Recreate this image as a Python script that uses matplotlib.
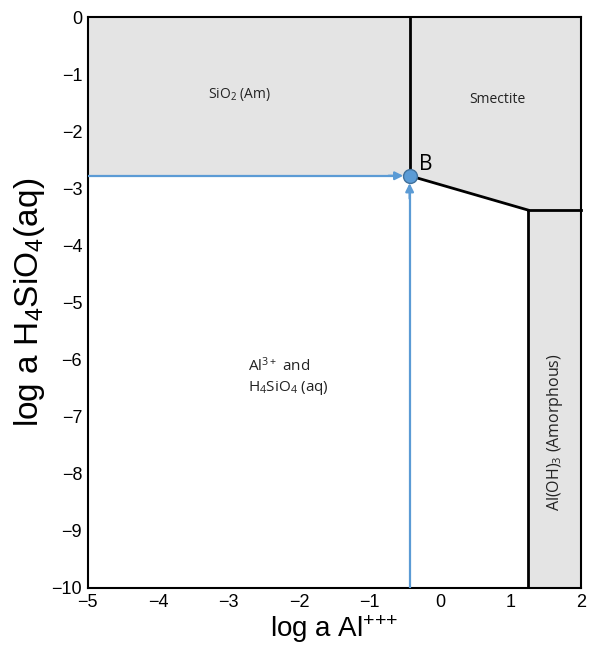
import matplotlib
matplotlib.use("Agg")
import matplotlib.pyplot as plt
from matplotlib.patches import Polygon

# Data (boundary points in log activity units)
point_B = (-0.43, -2.78)
kink = (1.25, -3.38)
xlim = (-5, 2)
ylim = (-10, 0)
xticks = [-5, -4, -3, -2, -1, 0, 1, 2]
yticks = [0, -1, -2, -3, -4, -5, -6, -7, -8, -9, -10]

region_labels = {
    "sio2": ("SiO$_2$ (Am)", (-2.84, -1.35)),
    "smectite": ("Smectite", (0.81, -1.45)),
    "aq": ("Al$^{3+}$ and\nH$_4$SiO$_4$ (aq)", (-2.72, -6.3)),
    "aloh": ("Al(OH)$_3$ (Amorphous)", (1.63, -7.27)),
}

plt.rcParams['font.family'] = ['Liberation Sans', 'DejaVu Sans']
plt.rcParams['mathtext.default'] = 'regular'
fig = plt.figure(figsize=(5.89, 6.56), dpi=100)
ax = fig.add_axes([0.149, 0.1037, 0.837, 0.8703])

grey = '#e4e4e4'
bx, by = point_B
kx, ky = kink
# SiO2 region
ax.add_patch(Polygon([(xlim[0], by), (bx, by), (bx, ylim[1]), (xlim[0], ylim[1])],
                     closed=True, facecolor=grey, edgecolor='none', zorder=1))
# Smectite region
ax.add_patch(Polygon([(bx, ylim[1]), (bx, by), (kx, ky), (xlim[1], ky), (xlim[1], ylim[1])],
                     closed=True, facecolor=grey, edgecolor='none', zorder=1))
# Al(OH)3 region
ax.add_patch(Polygon([(kx, ylim[0]), (kx, ky), (xlim[1], ky), (xlim[1], ylim[0])],
                     closed=True, facecolor=grey, edgecolor='none', zorder=1))

# boundaries
ax.plot([bx, bx], [by, ylim[1]], color='black', lw=2, zorder=3)
ax.plot([bx, kx], [by, ky], color='black', lw=2, zorder=3)
ax.plot([kx, xlim[1]], [ky, ky], color='black', lw=2, zorder=3, clip_on=False)
ax.plot([kx, kx], [ky, ylim[0]], color='black', lw=2, zorder=3)

blue = '#5b9bd5'
ax.plot([xlim[0], bx - 0.17], [by, by], color=blue, lw=1.6, zorder=4)
ax.annotate('', xy=(bx - 0.09, by), xytext=(bx - 0.3, by),
            arrowprops=dict(arrowstyle='-|>', color=blue, lw=1.6, mutation_scale=12,
                            shrinkA=0, shrinkB=0), zorder=4)
ax.plot([bx, bx], [ylim[0], by - 0.3], color=blue, lw=1.6, zorder=4)
ax.annotate('', xy=(bx, by - 0.13), xytext=(bx, by - 0.4),
            arrowprops=dict(arrowstyle='-|>', color=blue, lw=1.6, mutation_scale=12,
                            shrinkA=0, shrinkB=0), zorder=4)
ax.plot([bx], [by], 'o', ms=10, color=blue, mec='#41719c', mew=1, zorder=5)
ax.text(bx + 0.13, by + 0.02, 'B', fontsize=15, family='Open Sans', ha='left', va='bottom', zorder=6)

lbl_font = ['Open Sans', 'DejaVu Sans']
t, (x, y) = region_labels['sio2']
ax.text(x, y, t, fontsize=10, family=lbl_font, ha='center', va='center', color='#222222')
t, (x, y) = region_labels['smectite']
ax.text(x, y, t, fontsize=10, family=lbl_font, ha='center', va='center', color='#222222')
t, (x, y) = region_labels['aq']
ax.text(x, y, t, fontsize=11, family=lbl_font, ha='left', va='center', color='#222222',
        linespacing=1.3)
t, (x, y) = region_labels['aloh']
ax.text(x, y, t, fontsize=11.5, family=lbl_font, ha='center', va='center', rotation=90, color='#222222')

ax.set_xlim(*xlim)
ax.set_ylim(*ylim)
ax.set_xticks(xticks)
ax.set_yticks(yticks)
ax.set_xticklabels([f"\u2212{abs(v)}" if v < 0 else str(v) for v in xticks])
ax.set_yticklabels([f"\u2212{abs(v)}" if v < 0 else str(v) for v in yticks])
ax.tick_params(length=0, labelsize=13, pad=4)
for s in ax.spines.values():
    s.set_linewidth(1.5)

ax.set_xlabel('log a Al$^{{+}{+}{+}}$', fontsize=20, labelpad=2)
ax.set_ylabel('log a H$_4$SiO$_4$(aq)', fontsize=24, labelpad=3)

fig.savefig('out.png', dpi=100)
